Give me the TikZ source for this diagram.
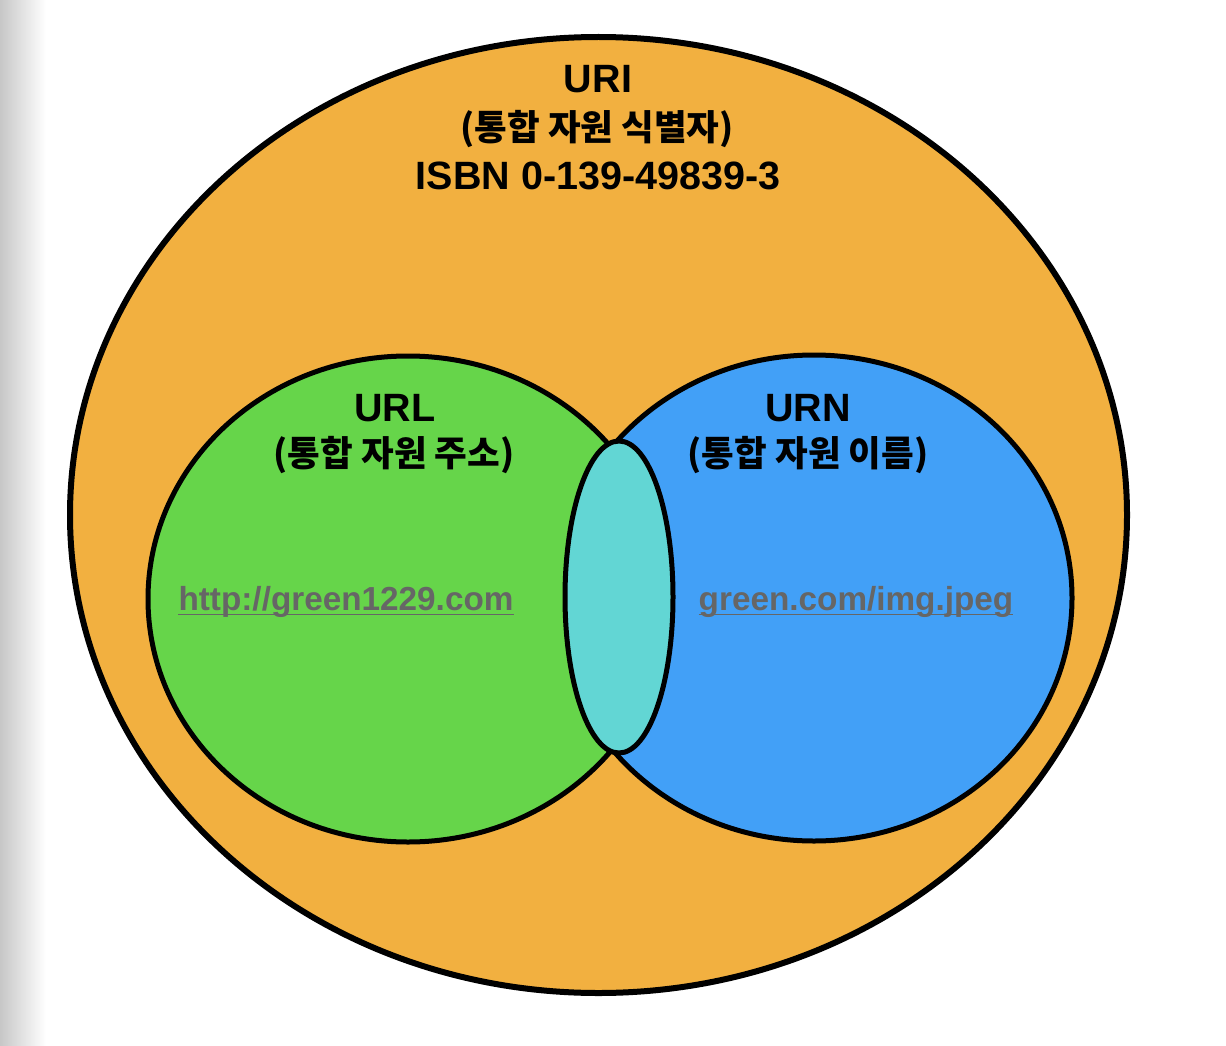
\documentclass[tikz,border=0pt]{standalone}
\usepackage{fontspec}
\setmainfont{Liberation Sans}
\newfontfamily\kr{Noto Sans CJK KR}
\usetikzlibrary{shapes.geometric}
\definecolor{uriorange}{RGB}{242,176,64}
\definecolor{urlgreen}{RGB}{102,213,74}
\definecolor{urnblue}{RGB}{66,160,247}
\definecolor{lenscyan}{RGB}{98,214,212}
\definecolor{linkgray}{RGB}{102,102,102}
\tikzset{
  setshape/.style={ellipse, draw=black, inner sep=0pt, outer sep=0pt, line width=5pt},
  titletext/.style={anchor=base, inner sep=0pt, font=\bfseries\fontsize{39.5}{44}\selectfont},
  krtext/.style={anchor=base, inner sep=0pt, font=\kr\bfseries\fontsize{35.5}{40}\selectfont},
  linktext/.style={anchor=base, inner sep=0pt, text=linkgray, font=\bfseries\fontsize{33.3}{38}\selectfont},
  underl/.style={draw=linkgray, line width=1.8pt}
}
\begin{document}
\begin{tikzpicture}[x=1pt,y=-1pt]
\useasboundingbox (0,0) rectangle (1226,1046);
\fill[white] (0,0) rectangle (1226,1046);
\shade[left color=black!22, right color=white] (0,0) rectangle (46,1046);
% sets
\node[setshape, line width=6pt, fill=uriorange, minimum width=1057pt, minimum height=956pt] (uri) at (598.5,515) {};
\node[setshape, fill=urnblue, minimum width=516pt, minimum height=486pt] (urn) at (814,598) {};
\node[setshape, fill=urlgreen, minimum width=520pt, minimum height=486pt] (url) at (408,599) {};
\node[setshape, fill=lenscyan, minimum width=108pt, minimum height=312pt] (lens) at (619,597) {};
% URI labels
\node[titletext] (uril1) at (598,93) {URI};
\node[krtext] (uril2) at (597,140) {(통합 자원 식별자)};
\node[titletext] (uril3) at (598,189) {ISBN 0-139-49839-3};
% URL labels
\node[titletext] (urll1) at (395,421) {URL};
\node[krtext] (urll2) at (394,466) {(통합 자원 주소)};
\node[linktext] (urll3) at (346,610) {http://green1229.com};
\draw[underl] ([yshift=-4.5pt]urll3.base west) -- ([yshift=-4.5pt]urll3.base east);
% URN labels
\node[titletext] (urnl1) at (808,421) {URN};
\node[krtext] (urnl2) at (808,466) {(통합 자원 이름)};
\node[linktext] (urnl3) at (856,610) {green.com/img.jpeg};
\draw[underl] ([yshift=-4.5pt]urnl3.base west) -- ([yshift=-4.5pt]urnl3.base east);
\end{tikzpicture}
\end{document}
